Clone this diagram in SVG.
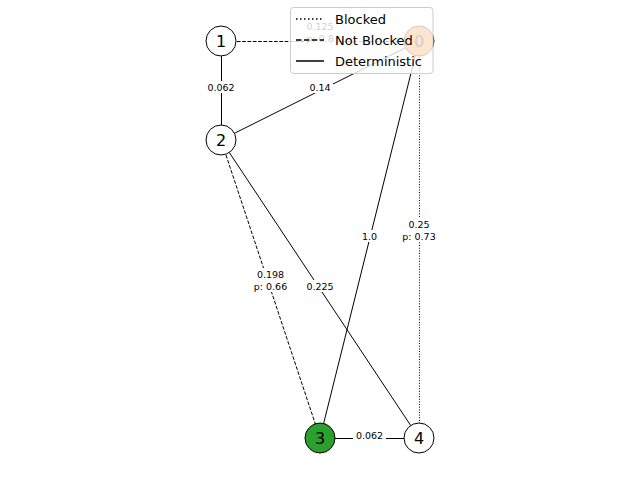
<svg xmlns="http://www.w3.org/2000/svg" width="640" height="480" viewBox="0 0 640 480">
<style>
.e{stroke:#000;stroke-width:1;fill:none}
.dash{stroke-dasharray:3.7,1.6}
.dot{stroke-dasharray:1,1.65}
.n{stroke:#000;stroke-width:1}
.nl{font-family:"DejaVu Sans",sans-serif;font-size:16px;text-anchor:middle;dominant-baseline:central}
.el{font-family:"DejaVu Sans",sans-serif;font-size:9.5px;text-anchor:middle;dominant-baseline:central}
.lb{fill:#fff}
.lt{font-family:"DejaVu Sans",sans-serif;font-size:13px;dominant-baseline:central}
</style>
<rect width="640" height="480" fill="#fff"/>
<g id="connectors">
<line class="e dash" x1="221" y1="41.5" x2="419" y2="41.5"/>
<line class="e" x1="221.5" y1="41" x2="221.5" y2="140"/>
<line class="e" x1="221" y1="140" x2="419" y2="41"/>
<line class="e dash" x1="221" y1="140" x2="320" y2="438"/>
<line class="e" x1="221" y1="140" x2="419" y2="438"/>
<line class="e" x1="419" y1="41" x2="320" y2="438"/>
<line class="e dot" x1="419.5" y1="41" x2="419.5" y2="438"/>
<line class="e" x1="320" y1="438.5" x2="419" y2="438.5"/>
<g id="edge-labels">
<rect class="lb" x="304" y="20" width="32" height="24"/>
<text class="el" x="320" y="26">0.125</text><text class="el" x="320" y="38">p: 0.8</text>
<rect class="lb" x="205" y="81" width="32" height="12"/>
<text class="el" x="221" y="87">0.062</text>
<rect class="lb" x="307" y="81" width="26" height="12"/>
<text class="el" x="320" y="87">0.14</text>
<rect class="lb" x="250" y="268" width="41" height="24"/>
<text class="el" x="270.5" y="274">0.198</text><text class="el" x="270.5" y="286">p: 0.66</text>
<rect class="lb" x="304" y="280" width="32" height="12"/>
<text class="el" x="320" y="286">0.225</text>
<rect class="lb" x="359" y="230" width="21" height="12"/>
<text class="el" x="369.5" y="236">1.0</text>
<rect class="lb" x="398" y="218" width="42" height="24"/>
<text class="el" x="419" y="224">0.25</text><text class="el" x="419" y="236">p: 0.73</text>
<rect class="lb" x="353" y="429" width="33" height="12"/>
<text class="el" x="369.5" y="435">0.062</text>
</g>
</g>
<g id="node0"><circle class="n" cx="419" cy="41" r="15" fill="#ff7f0e"/><text class="nl" x="419" y="41">0</text></g>
<g id="node1"><circle class="n" cx="221" cy="41" r="15" fill="#fff"/><text class="nl" x="221" y="41">1</text></g>
<g id="node2"><circle class="n" cx="221" cy="140" r="15" fill="#fff"/><text class="nl" x="221" y="140">2</text></g>
<g id="node3"><circle class="n" cx="320" cy="438" r="15" fill="#2ca02c"/><text class="nl" x="320" y="438">3</text></g>
<g id="node4"><circle class="n" cx="419" cy="438" r="15" fill="#fff"/><text class="nl" x="419" y="438">4</text></g>
<g id="legend">
<rect x="290.5" y="7.5" width="142.5" height="66" rx="3" fill="#fff" fill-opacity="0.8" stroke="#ccc" stroke-width="1"/>
<line x1="296" y1="19" x2="324" y2="19" stroke="#000" stroke-width="1.5" stroke-dasharray="1.5,2.5"/>
<text class="lt" x="335" y="19">Blocked</text>
<line x1="296" y1="40" x2="324" y2="40" stroke="#000" stroke-width="1.5" stroke-dasharray="5.5,2.4"/>
<text class="lt" x="335" y="40">Not Blocked</text>
<line x1="296" y1="61" x2="324" y2="61" stroke="#000" stroke-width="1.5"/>
<text class="lt" x="335" y="61">Deterministic</text>
</g>
</svg>
